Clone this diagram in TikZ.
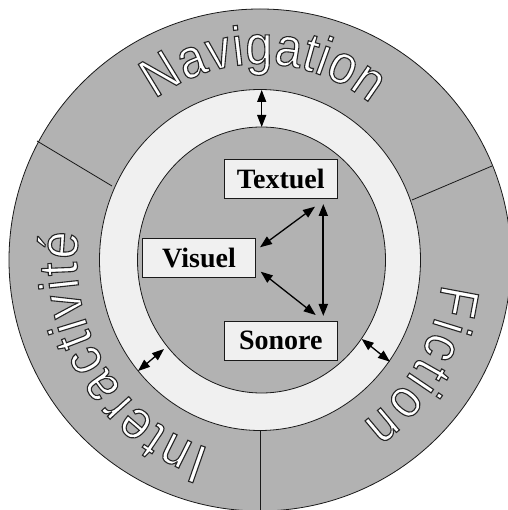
\documentclass[tikz,border=0pt]{standalone}
\usepackage{fontspec}
\setmainfont{Liberation Serif}
\newfontfamily\arcfont[FakeStretch=0.88]{Liberation Sans}
\usetikzlibrary{decorations.text,arrows.meta}
\definecolor{ringgray}{HTML}{B2B2B2}
\definecolor{lightfill}{HTML}{F0F0F0}
\definecolor{edge}{HTML}{1A1A1A}
\newcommand\arcfmt{\arcfont\fontsize{55}{55}\selectfont\color{white}\special{pdf:literal direct 0.15 G 2 Tr 1.1 w}}
\begin{document}
\begin{tikzpicture}[x=1pt,y=1pt,
  box/.style={draw=edge, fill=lightfill, line width=0.8pt, minimum width=113pt, minimum height=39pt, inner sep=0pt, font=\bfseries\fontsize{28}{28}\selectfont},
  link/.style={<->, >={Triangle[length=12pt,width=9pt]}, line width=1.3pt},
  thicklink/.style={link, line width=2pt},
  divider/.style={draw=edge, line width=0.8pt},
  ringline/.style={draw=edge, line width=0.8pt},
  arclabel/.style={decorate, decoration={text along path, text align=fit to path, text={|\arcfmt|#1}}}]
\useasboundingbox (-260,-250) rectangle (247,260);
% rings
\filldraw[fill=ringgray, ringline] (0,0) circle[radius=251];
\filldraw[fill=lightfill, ringline] (0,0) ellipse[x radius=160.5, y radius=170.5];
\filldraw[fill=ringgray, ringline] (1.5,0) ellipse[x radius=124, y radius=133];
% dividers
\coordinate (dl1) at (-148,74);  \coordinate (dl2) at (-223,119);
\coordinate (dr1) at (152,60);   \coordinate (dr2) at (232,94);
\coordinate (db1) at (0,-170.5); \coordinate (db2) at (0,-252);
\draw[divider] (dl1) -- (dl2);
\draw[divider] (dr1) -- (dr2);
\draw[divider] (db1) -- (db2);
% boxes
\node[box] (textuel) at (20.8,81.2) {Textuel};
\node[box] (visuel) at (-61,1.7) {Visuel};
\node[box] (sonore) at (20.8,-80.5) {Sonore};
% arrow ends
\coordinate (tv1) at (55,53.3);   \coordinate (tv2) at (0,12.7);
\coordinate (vs1) at (0.7,-11.7); \coordinate (vs2) at (55.7,-55);
\coordinate (ts1) at (63.3,56);   \coordinate (ts2) at (63.3,-56);
\coordinate (n1) at (1.7,170);    \coordinate (n2) at (1.7,133);
\coordinate (i1) at (-122,-111);  \coordinate (i2) at (-96,-89);
\coordinate (f1) at (101.7,-79);  \coordinate (f2) at (130,-101.7);
\draw[link] (tv1) -- (tv2);
\draw[link] (vs1) -- (vs2);
\draw[thicklink] (ts1) -- (ts2);
\draw[link] (n1) -- (n2);
\draw[link] (i1) -- (i2);
\draw[link] (f1) -- (f2);
% arc labels
\path[arclabel=Navigation]
  (125:183 and 196) arc[start angle=125, end angle=53, x radius=183, y radius=196];
\path[arclabel=Fiction]
  (-7:183 and 196) arc[start angle=-7, end angle=-56, x radius=183, y radius=196];
\path[arclabel=Interactivité]
  (254:183 and 196) arc[start angle=254, end angle=172, x radius=183, y radius=196];
\end{tikzpicture}
\end{document}
